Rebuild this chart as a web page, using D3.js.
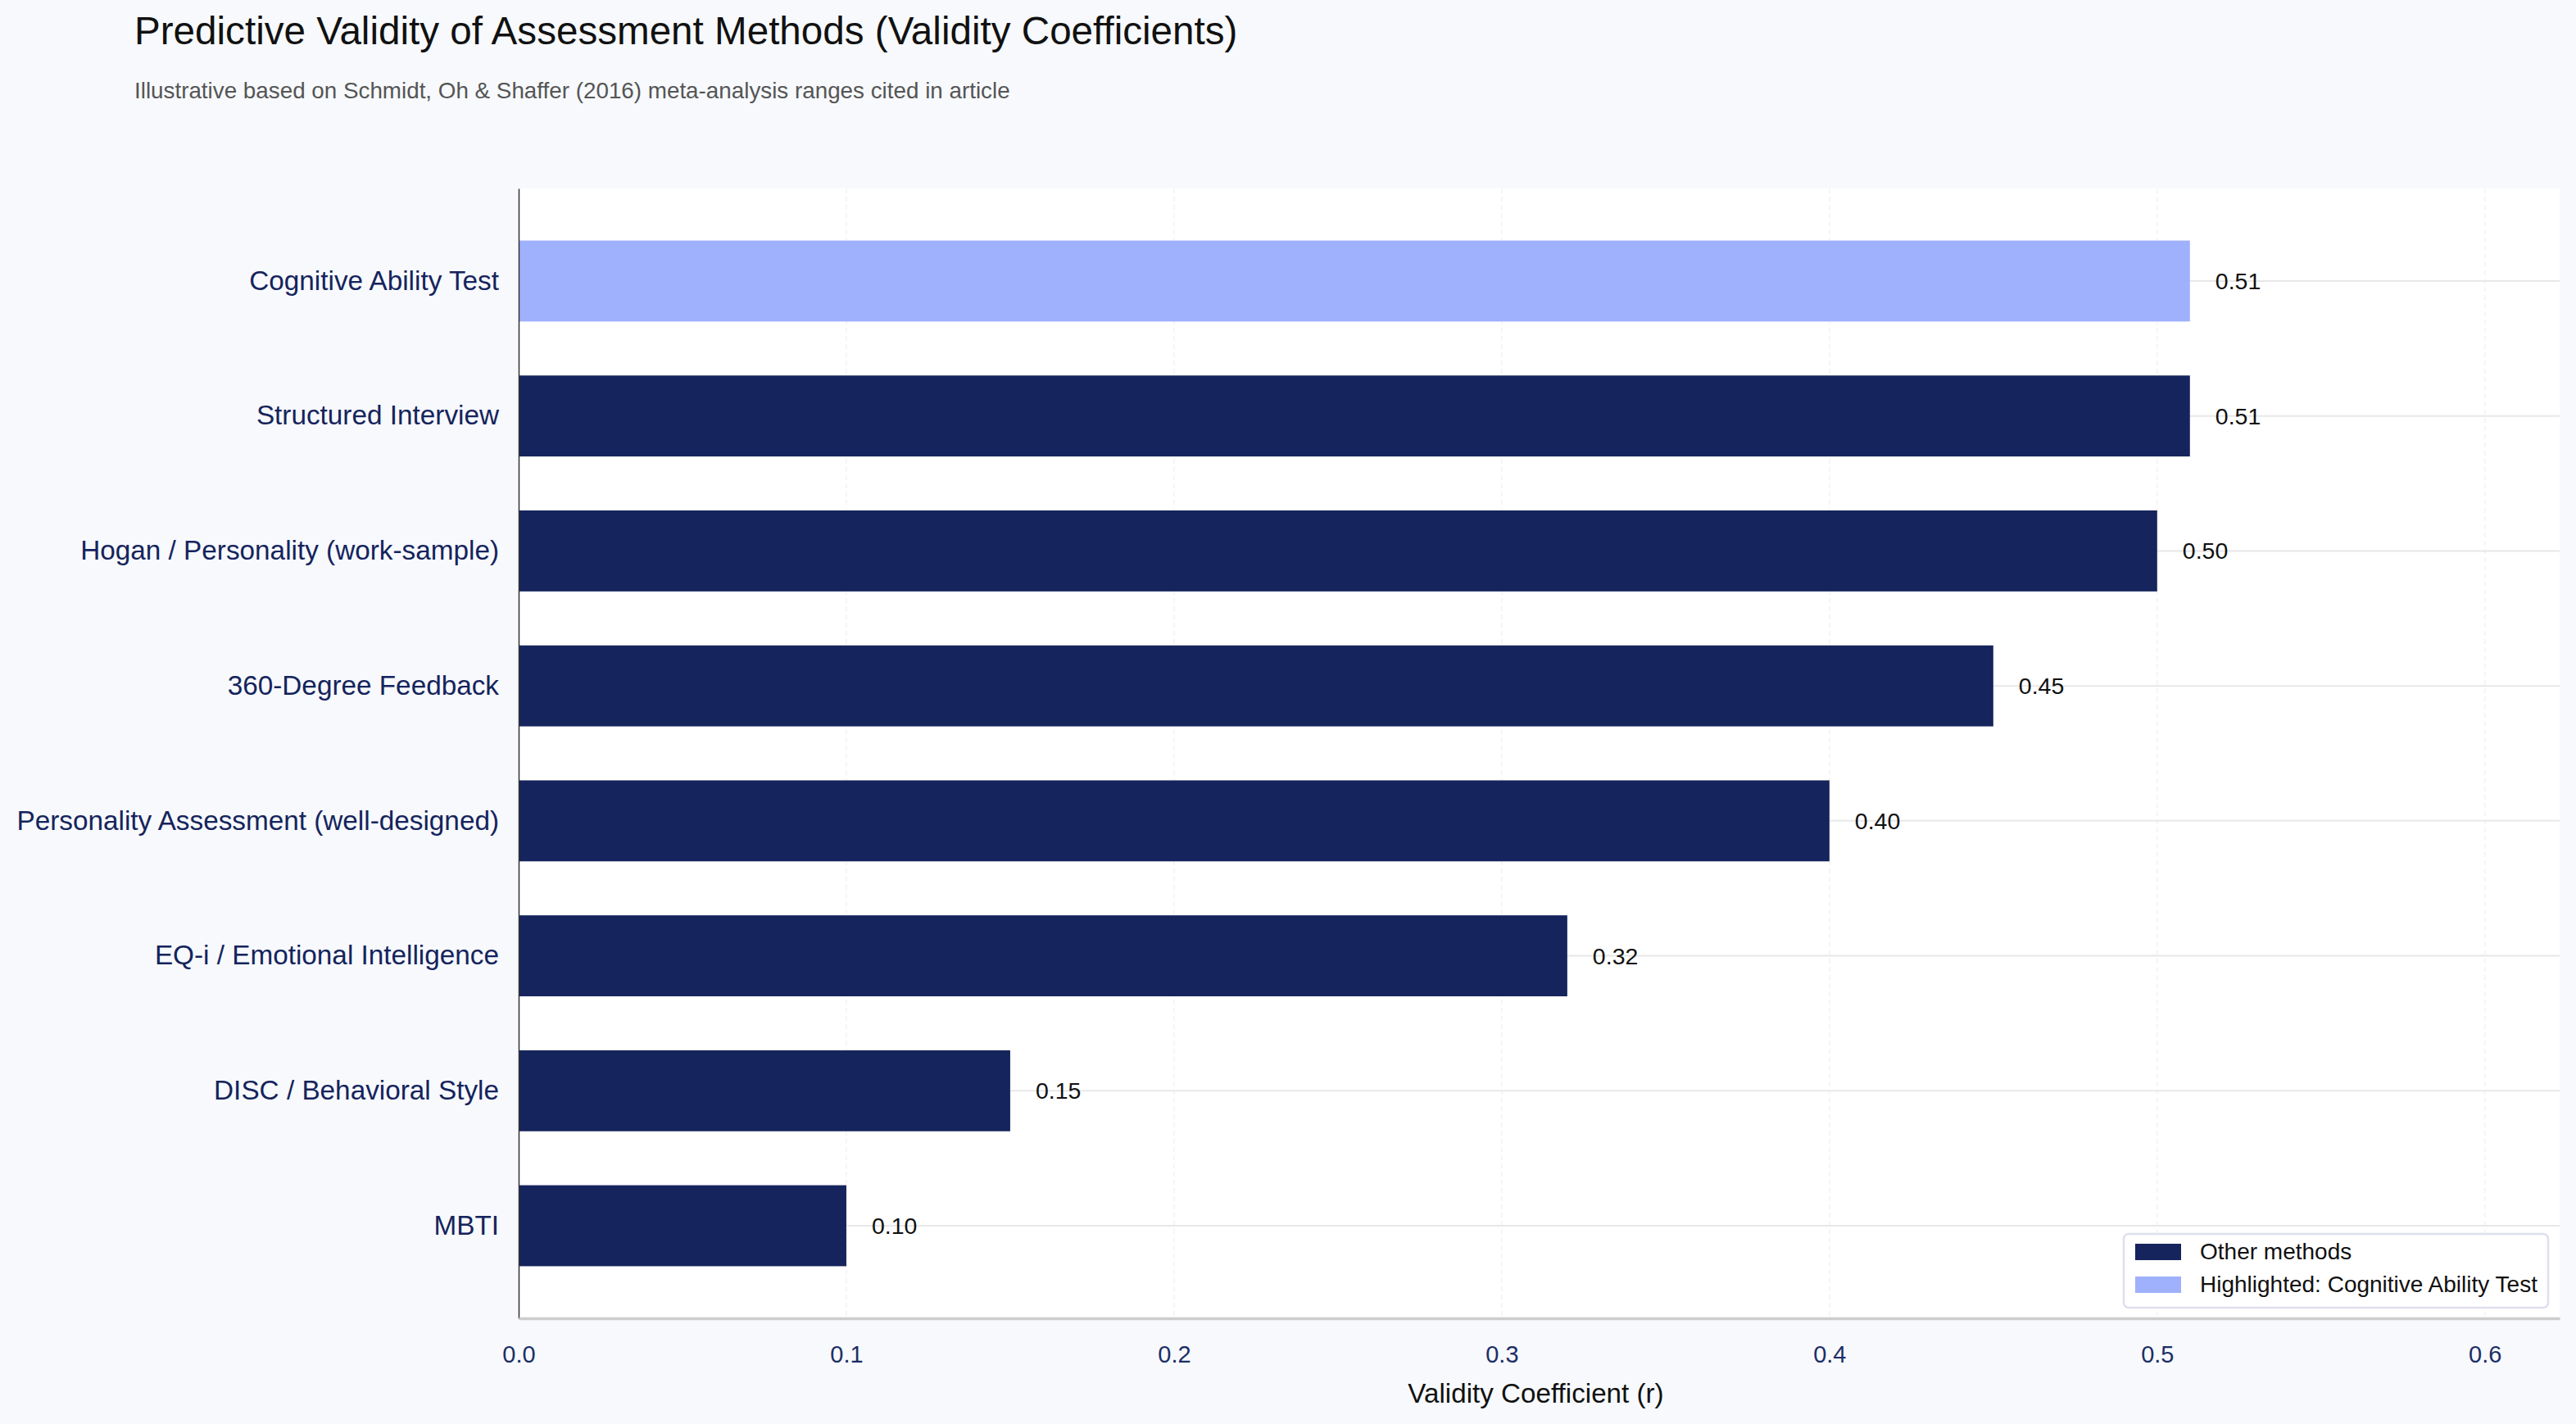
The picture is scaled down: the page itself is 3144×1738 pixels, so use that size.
<!DOCTYPE html>
<html>
<head>
<meta charset="utf-8">
<script src="https://cdn.jsdelivr.net/npm/d3@7"></script>
<style>
  html, body { margin: 0; padding: 0; background: #f7f9fc; }
  svg { display: block; font-family: "Liberation Sans", Arial, Helvetica, sans-serif; }
</style>
</head>
<body>
<svg id="chart"></svg>
<script>
// data
const methods = [
  'Cognitive Ability Test',
  'Structured Interview',
  'Hogan / Personality (work-sample)',
  '360-Degree Feedback',
  'Personality Assessment (well-designed)',
  'EQ-i / Emotional Intelligence',
  'DISC / Behavioral Style',
  'MBTI'
];
const validity = [0.51, 0.51, 0.50, 0.45, 0.40, 0.32, 0.15, 0.10];
const highlighted = 'Cognitive Ability Test';
const xTicks = [0, 0.1, 0.2, 0.3, 0.4, 0.5, 0.6];
const legendLabels = ['Other methods', 'Highlighted: Cognitive Ability Test'];

const data = methods.map((m, i) => ({ method: m, r: validity[i] }));

// page + plot area
const width = 3144, height = 1738;
const margin = { top: 230, right: 20, bottom: 129, left: 633 };
const plotW = 2491, plotH = 1379;

const navy = '#15245c';
const light = '#9fb1fc';

const svg = d3.select('#chart').attr('width', width).attr('height', height);

svg.append('rect').attr('width', width).attr('height', height).attr('fill', '#f7f9fc');

// title + subtitle
svg.append('text')
  .attr('x', 164).attr('y', 54)
  .attr('font-size', 47.6).attr('fill', '#111')
  .text('Predictive Validity of Assessment Methods (Validity Coefficients)');

svg.append('text')
  .attr('x', 164).attr('y', 120)
  .attr('font-size', 27.8).attr('fill', '#555')
  .text('Illustrative based on Schmidt, Oh & Shaffer (2016) meta-analysis ranges cited in article');

const g = svg.append('g').attr('transform', `translate(${margin.left},${margin.top})`);

// scales
const x = d3.scaleLinear().domain([0, d3.max(validity) * 1.2212]).range([0, plotW]);
const y = d3.scaleBand().domain(methods).range([0, plotH]).paddingInner(0.4).paddingOuter(0.386);

// white plot background
g.append('rect').attr('width', plotW).attr('height', plotH).attr('fill', '#fff');

// vertical grid (very faint, dashed)
g.append('g')
  .selectAll('line')
  .data(xTicks.slice(1))
  .join('line')
  .attr('x1', d => x(d)).attr('x2', d => x(d))
  .attr('y1', 0).attr('y2', plotH)
  .attr('stroke', '#f5f5f7')
  .attr('stroke-width', 2)
  .attr('stroke-dasharray', '6,4');

// horizontal grid at band centres
g.append('g')
  .selectAll('line')
  .data(methods)
  .join('line')
  .attr('x1', 0).attr('x2', plotW)
  .attr('y1', d => y(d) + y.bandwidth() / 2)
  .attr('y2', d => y(d) + y.bandwidth() / 2)
  .attr('stroke', '#e8e8ea')
  .attr('stroke-width', 2);

// bars
g.append('g')
  .selectAll('rect')
  .data(data)
  .join('rect')
  .attr('x', 0)
  .attr('y', d => y(d.method))
  .attr('width', d => x(d.r))
  .attr('height', y.bandwidth())
  .attr('fill', d => d.method === highlighted ? light : navy);

// value labels
g.append('g')
  .selectAll('text')
  .data(data)
  .join('text')
  .attr('x', d => x(d.r) + 31)
  .attr('y', d => y(d.method) + y.bandwidth() / 2)
  .attr('dy', '0.35em')
  .attr('font-size', 28.5)
  .attr('fill', '#111')
  .text(d => d.r.toFixed(2));

// y axis
const yAxis = g.append('g')
  .call(d3.axisLeft(y).tickSize(0).tickPadding(24));
yAxis.select('.domain').attr('stroke', '#333').attr('stroke-width', 1.5);
yAxis.selectAll('text')
  .attr('font-size', 33.3)
  .attr('fill', navy)
  .attr('font-family', '"Liberation Sans", Arial, sans-serif');

// x axis
const xAxis = g.append('g')
  .attr('transform', `translate(0,${plotH})`)
  .call(d3.axisBottom(x).tickValues(xTicks).tickFormat(d3.format('.1f')).tickSize(0).tickPadding(33));
xAxis.select('.domain').attr('stroke', '#cccccc').attr('stroke-width', 3.5);
xAxis.selectAll('text')
  .attr('font-size', 29)
  .attr('fill', '#1c2e66')
  .attr('font-family', '"Liberation Sans", Arial, sans-serif');

// x axis title
svg.append('text')
  .attr('x', margin.left + plotW / 2 - 4)
  .attr('y', 1712)
  .attr('text-anchor', 'middle')
  .attr('font-size', 33.2)
  .attr('fill', '#111')
  .text('Validity Coefficient (r)');

// legend
const legend = svg.append('g').attr('transform', 'translate(2592,1506)');
legend.append('rect')
  .attr('width', 518).attr('height', 90)
  .attr('rx', 6)
  .attr('fill', '#fff')
  .attr('stroke', '#dedff0')
  .attr('stroke-width', 2.5);

const legendColors = [navy, light];
legendLabels.forEach((lab, i) => {
  legend.append('rect')
    .attr('x', 14).attr('y', 12 + i * 40)
    .attr('width', 56).attr('height', 20)
    .attr('fill', legendColors[i]);
  legend.append('text')
    .attr('x', 93).attr('y', 31 + i * 40)
    .attr('font-size', 28)
    .attr('fill', '#111')
    .text(lab);
});
</script>
</body>
</html>
